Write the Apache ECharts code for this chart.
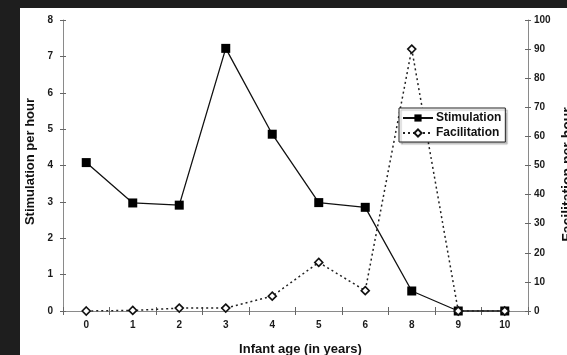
<!DOCTYPE html>
<html>
<head>
<meta charset="utf-8">
<script src="https://cdn.jsdelivr.net/npm/echarts@6/dist/echarts.min.js"></script>
<style>
html,body{margin:0;padding:0;background:#1e1e1e;width:567px;height:355px;overflow:hidden;}
#c{position:absolute;left:20px;top:8px;width:547px;height:347px;background:#fff;}
</style>
</head>
<body>
<div id="c"></div>
<script>
const categories = ['0','1','2','3','4','5','6','8','9','10'];
const stimulation = [4.08, 2.97, 2.91, 7.22, 4.86, 2.98, 2.85, 0.55, 0, 0];
const facilitation = [0, 0.2, 1.0, 1.0, 5.1, 16.7, 7.0, 90, 0, 0];
const leftTicks = {min: 0, max: 8, interval: 1};
const rightTicks = {min: 0, max: 100, interval: 10};

const font = 'Liberation Sans, Arial, sans-serif';
const axisGrey = '#8a8a8a';
const lbl = {color: '#1a1a1a', fontWeight: 'bold', fontSize: 10, fontFamily: font};

const chart = echarts.init(document.getElementById('c'), null, {renderer: 'canvas'});
chart.setOption({
  animation: false,
  backgroundColor: '#ffffff',
  grid: {left: 43, right: 39, top: 12, bottom: 44, containLabel: false, outerBoundsMode: 'none'},
  legend: {
    orient: 'vertical',
    left: 379, top: 100,
    data: ['Stimulation', 'Facilitation'],
    itemWidth: 30, itemHeight: 9, itemGap: 3,
    padding: [4, 4, 3, 3],
    borderColor: '#222', borderWidth: 1, backgroundColor: '#fff',
    shadowColor: 'rgba(0,0,0,0.25)', shadowOffsetX: 2, shadowOffsetY: 2, shadowBlur: 1,
    textStyle: {fontWeight: 'bold', fontSize: 12, fontFamily: font, color: '#111', padding: [0,0,0,-2]}
  },
  xAxis: [{
    type: 'category', data: categories, boundaryGap: true,
    name: 'Infant age (in years)', nameLocation: 'middle', nameGap: 32,
    nameTextStyle: {fontWeight: 'bold', fontSize: 13, fontFamily: font, color: '#111', padding: [0, 0, 0, 10]},
    axisLine: {lineStyle: {color: axisGrey, width: 1}},
    axisTick: {show: true, inside: false, length: 4, lineStyle: {color: '#666'}},
    axisLabel: Object.assign({margin: 9}, lbl),
    splitLine: {show: false}
  }, {
    type: 'category', data: categories, boundaryGap: true, position: 'bottom',
    axisLine: {show: false},
    axisTick: {show: true, inside: true, length: 4, lineStyle: {color: '#666'}},
    axisLabel: {show: false}, splitLine: {show: false}
  }],
  yAxis: [{
    type: 'value', position: 'left', min: leftTicks.min, max: leftTicks.max, interval: leftTicks.interval,
    name: 'Stimulation per hour', nameLocation: 'middle', nameGap: 20,
    nameTextStyle: {fontWeight: 'bold', fontSize: 13, fontFamily: font, color: '#111', padding: [0, 0, 0, 8]},
    axisLine: {show: true, lineStyle: {color: axisGrey, width: 1}},
    axisTick: {show: true, length: 3, lineStyle: {color: '#666'}},
    axisLabel: Object.assign({margin: 10}, lbl),
    splitLine: {show: false}
  }, {
    type: 'value', position: 'right', min: rightTicks.min, max: rightTicks.max, interval: rightTicks.interval,
    name: 'Facilitation per hour', nameLocation: 'middle', nameGap: 31,
    nameTextStyle: {fontWeight: 'bold', fontSize: 14, fontFamily: font, color: '#111', padding: [0, 18, 0, 0]},
    axisLine: {show: true, lineStyle: {color: axisGrey, width: 1}},
    axisTick: {show: true, length: 3, lineStyle: {color: '#666'}},
    axisLabel: Object.assign({margin: 6}, lbl),
    splitLine: {show: false}
  }, {
    type: 'value', position: 'left', min: leftTicks.min, max: leftTicks.max, interval: leftTicks.interval,
    axisLine: {show: false}, axisTick: {show: true, inside: true, length: 3, lineStyle: {color: '#666'}},
    axisLabel: {show: false}, splitLine: {show: false}
  }, {
    type: 'value', position: 'right', min: rightTicks.min, max: rightTicks.max, interval: rightTicks.interval,
    axisLine: {show: false}, axisTick: {show: true, inside: true, length: 3, lineStyle: {color: '#666'}},
    axisLabel: {show: false}, splitLine: {show: false}
  }],
  series: [{
    name: 'Stimulation', type: 'line', yAxisIndex: 0, data: stimulation,
    symbol: 'rect', symbolSize: 9,
    lineStyle: {color: '#111', width: 1.3, type: 'solid'},
    itemStyle: {color: '#000', borderColor: '#000', borderWidth: 0}
  }, {
    name: 'Facilitation', type: 'line', yAxisIndex: 1, data: facilitation,
    symbol: 'diamond', symbolSize: 8,
    lineStyle: {color: '#222', width: 1.5, type: [2, 3]},
    itemStyle: {color: '#fff', borderColor: '#111', borderWidth: 1.6}
  }]
});
</script>
</body>
</html>
